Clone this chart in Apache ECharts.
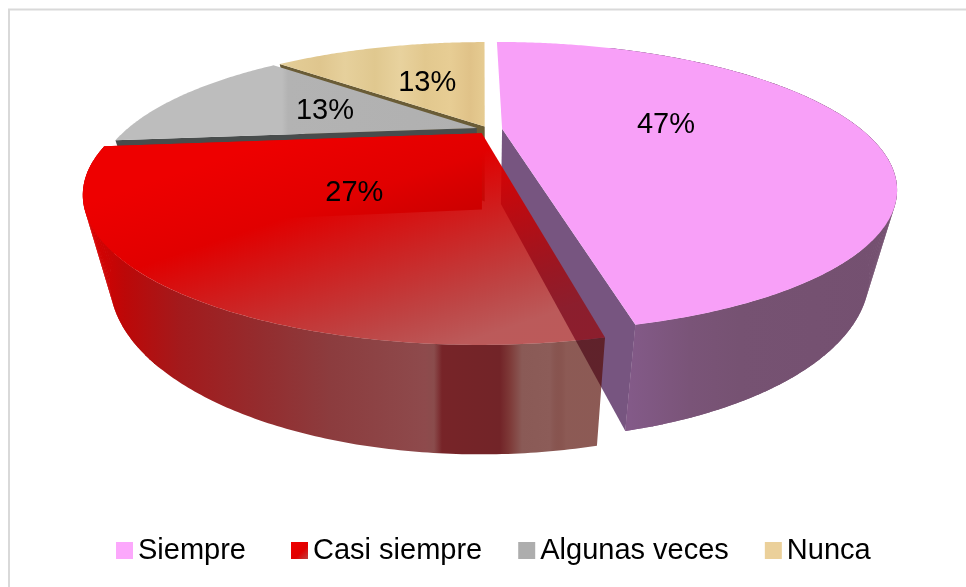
<!DOCTYPE html>
<html><head><meta charset="utf-8">
<style>html,body{margin:0;padding:0;background:#fff}#c{width:966px;height:587px}</style>
<script src="https://cdn.jsdelivr.net/npm/echarts@6/dist/echarts.min.js"></script>
</head><body><div id="c"></div>
<script>
const categories = ['Siempre', 'Casi siempre', 'Algunas veces', 'Nunca'];
const values = [46.7, 26.7, 13.3, 13.3];

const total = values.reduce((a, b) => a + b, 0);
const chart = echarts.init(document.getElementById('c'), null, {renderer: 'canvas'});
const G = echarts.graphic.LinearGradient;
const hGrad = (x0, x1, stops) => new G(x0, 0, x1, 0, stops.map(s => ({offset: (s[0] - x0) / (x1 - x0), color: s[1]})), true);

// perspective view of the tilted disc
const view = {cx: 484, cy: 132, B: 366, A: 125.5, p: 0.4106, shrink: 0.067, ha: 28, hb: 48};
function project(x, y, z) {
  const w = 1 / (1 - view.p * y);
  return [view.cx + view.B * x * w * (1 - view.shrink * z), view.cy + view.A * y * w + z * (view.ha + view.hb * w)];
}
const styles = [
  {dx: 0.05, dy: -0.027, r: 0.99, labelR: 0.465, labelDy: 2, top: '#F8A0F8',
   wall: hGrad(600, 890, [[600, '#835A88'], [630, '#835A88'], [690, '#7A5478'], [740, '#765272'], [890, '#745070']]),
   faceColor: '#775580', faceAtEnd: true, quads: [0.15, 1]},
  {dx: -0.006, dy: 0.01, r: 0.99, labelR: 0.49, labelDy: 0,
   top: new G(175, 173, 255.6, 413, [
     {offset: 0, color: 'rgba(238,0,0,1)'}, {offset: 0.308, color: 'rgba(225,0,0,1)'},
     {offset: 0.5, color: 'rgba(205,0,0,0.902)'}, {offset: 0.654, color: 'rgba(188,0,0,0.824)'},
     {offset: 0.846, color: 'rgba(165,0,0,0.725)'}, {offset: 1, color: 'rgba(151,0,0,0.647)'}], true),
   wall: hGrad(95, 600, [[95, '#D60000'], [125, '#BC0808'], [180, '#A31A1C'], [260, '#942C2E'], [330, '#8C3C3E'], [425, '#8E4A4C'], [434, '#8A4C4C'], [442, '#772428'], [500, '#722428'], [510, '#7E3A38'], [522, '#8A5A56'], [550, '#8C5C58'], [566, 'rgba(84,9,1,0.67)'], [600, 'rgba(84,9,1,0.67)']]),
   faceColor: '#D80000', faceAtEnd: true, quads: [0.55, 1]},
  {dx: -0.02, dy: -0.032, r: 0.965, labelR: 0.47, labelDy: 0,
   top: hGrad(110, 477, [[110, '#BDBDBD'], [282, '#BDBDBD'], [288, '#B3B3B3'], [477, '#B0B0B0']]), faceColor: '#484C4C', faceAtEnd: false},
  {dx: 0.002, dy: -0.045, r: 0.97, labelR: 0.46, labelDy: 0,
   top: hGrad(283, 485, [[283, '#E4CE98'], [320, '#DFC68E'], [345, '#E6D09C'], [375, '#E0C88F'], [400, '#E8D29E'], [425, '#E2C88E'], [450, '#E7CD94'], [470, '#E0C288'], [485, '#E6CC92']]), faceColor: '#6A5C36', faceAtEnd: false}
];
const legendColors = ['#FCA8FC', new G(0, 0, 1, 1, [{offset: 0, color: '#F00000'}, {offset: 0.6, color: '#E00000'}, {offset: 1, color: '#C04040'}]), '#ADADAD', '#EBD09A'];

const font = '"Liberation Sans", Arial, sans-serif';
function sliceGroup(i, value) {
  const st = styles[i];
  let before = 0;
  for (let k = 0; k < i; k++) before += values[k];
  const a0 = before / total * 2 * Math.PI, a1 = (before + value) / total * 2 * Math.PI;
  const pt = (a, r, z) => project(r * st.r * Math.sin(a) + st.dx, -r * st.r * Math.cos(a) + st.dy, z);
  const arc = (from, to, z) => {
    const n = Math.ceil(Math.abs(to - from) / 0.01), out = [];
    for (let k = 0; k <= n; k++) out.push(pt(from + (to - from) * k / n, 1, z));
    return out;
  };
  const children = [];
  const poly = (points, fill) => children.push({type: 'polygon', shape: {points}, style: {fill}, silent: true});
  const fa = st.faceAtEnd ? a1 : a0;
  poly([pt(0, 0, 0), pt(fa, 1, 0), pt(fa, 1, 1), pt(0, 0, 1)], st.faceColor);
  if (st.wall) {
    const w0 = a0 + (a1 - a0) * (i === 0 ? 0.15 : 0);
    poly(arc(w0, a1, 0).concat(arc(a1, w0, 1)), st.wall);
    const q0 = a0 + (a1 - a0) * st.quads[0], q1 = a0 + (a1 - a0) * st.quads[1];
    for (let a = q0; a < q1 - 1e-6; a += 0.02) {
      const b = Math.min(a + 0.022, q1);
      poly([pt(a, 1, 0), pt(b, 1, 0), pt(b, 1, 1), pt(a, 1, 1)], st.wall);
    }
  }
  poly([pt(0, 0, 0)].concat(arc(a0, a1, 0)), st.top);
  const m = (a0 + a1) / 2, c = pt(m, st.labelR / st.r, 0);
  children.push({type: 'text', x: c[0], y: c[1] + st.labelDy, silent: true, z2: 10,
    style: {text: Math.round(value / total * 100) + '%', fill: '#000', font: '29px ' + font, align: 'center', verticalAlign: 'middle'}});
  return {type: 'group', children};
}

const drawOrder = [3, 2, 0, 1];
const legendText = {fontFamily: font, fontSize: 29, color: '#000'};
chart.setOption({
  animation: false,
  backgroundColor: '#fff',
  graphic: [{type: 'rect', silent: true, shape: {x: 9, y: 9.5, width: 1100, height: 1100}, style: {fill: 'none', stroke: '#D9D9D9', lineWidth: 2}}],
  legend: [
    {data: [{name: categories[0], itemStyle: {color: legendColors[0]}}], icon: 'rect', left: 116, top: 536, itemWidth: 17, itemHeight: 17, padding: 0,
     textStyle: legendText, selectedMode: false},
    {data: categories.slice(1).map((name, i) => ({name, itemStyle: {color: legendColors[i + 1]}})), icon: 'rect', left: 291, top: 536, itemGap: 36, itemWidth: 17, itemHeight: 17, padding: 0,
     textStyle: legendText, selectedMode: false}
  ],
  series: drawOrder.map((i, order) => ({
    type: 'custom',
    name: categories[i],
    coordinateSystem: 'none',
    silent: true,
    z: 2 + order,
    data: [[values[i]]],
    renderItem: (params, api) => sliceGroup(i, api.value(0))
  }))
});
</script></body></html>
